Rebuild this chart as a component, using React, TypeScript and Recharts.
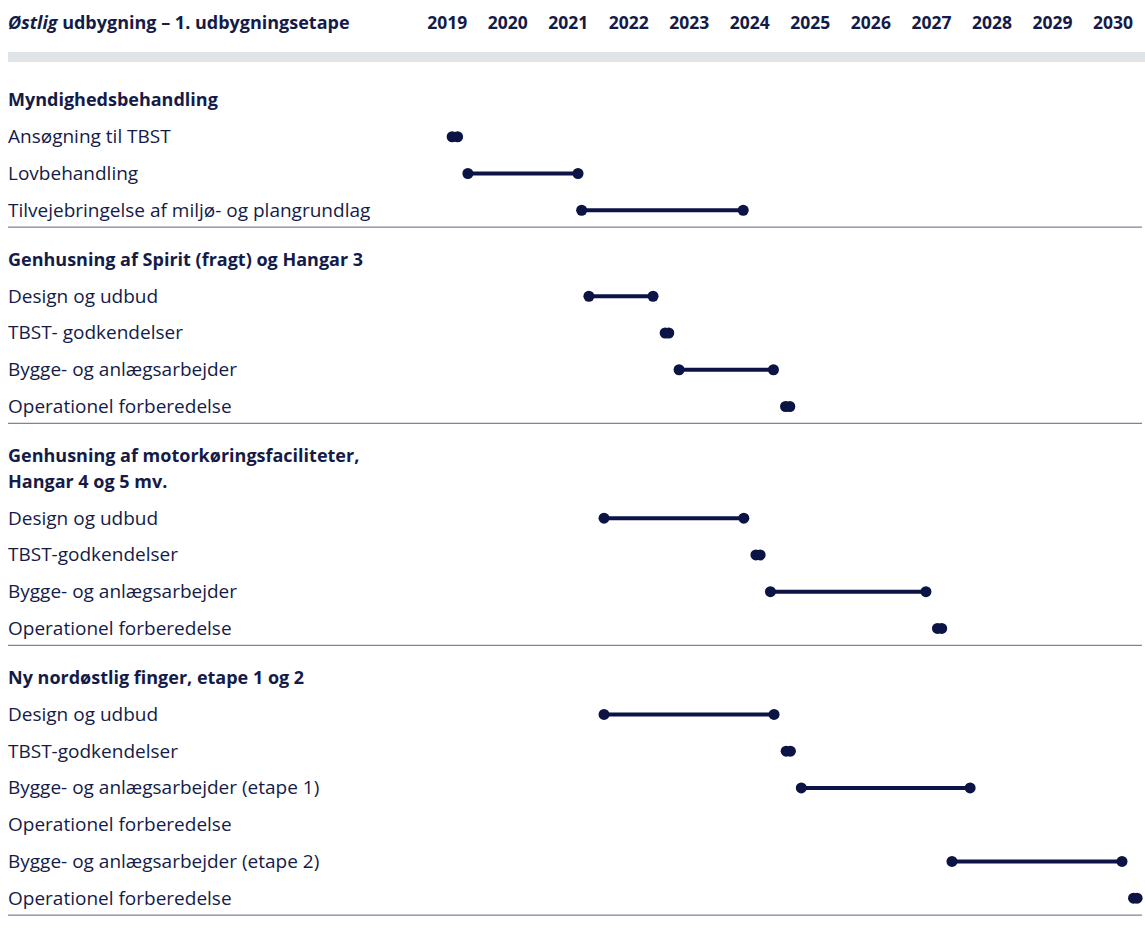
import { ScatterChart, Scatter, XAxis, YAxis, ReferenceLine } from "recharts";

// Tidsplan – østlig udbygning, 1. udbygningsetape
const years = [2019, 2020, 2021, 2022, 2023, 2024, 2025, 2026, 2027, 2028, 2029, 2030];

const groupTitles = [
  ["Myndighedsbehandling"],
  ["Genhusning af Spirit (fragt) og Hangar 3"],
  ["Genhusning af motorkøringsfaciliteter,", "Hangar 4 og 5 mv."],
  ["Ny nordøstlig finger, etape 1 og 2"],
];

const taskGroup = [0, 0, 0, 1, 1, 1, 1, 2, 2, 2, 2, 3, 3, 3, 3, 3, 3];

const taskNames = [
  "Ansøgning til TBST",
  "Lovbehandling",
  "Tilvejebringelse af miljø- og plangrundlag",
  "Design og udbud",
  "TBST- godkendelser",
  "Bygge- og anlægsarbejder",
  "Operationel forberedelse",
  "Design og udbud",
  "TBST-godkendelser",
  "Bygge- og anlægsarbejder",
  "Operationel forberedelse",
  "Design og udbud",
  "TBST-godkendelser",
  "Bygge- og anlægsarbejder (etape 1)",
  "Operationel forberedelse",
  "Bygge- og anlægsarbejder (etape 2)",
  "Operationel forberedelse",
];

// start / slut i årstal (decimal)
const taskStart = [2019.58, 2019.84, 2021.72, 2021.84, 2023.1, 2023.33, 2025.09, 2022.09, 2024.6, 2024.84, 2027.6, 2022.09, 2025.1, 2025.35, null, 2027.84, 2030.84];
const taskEnd = [2019.67, 2021.66, 2024.39, 2022.9, 2023.16, 2024.89, 2025.16, 2024.4, 2024.67, 2027.41, 2027.67, 2024.9, 2025.17, 2028.14, null, 2030.65, 2030.9];

const NAVY = "#0b1444";
const TEXT = "#141b48";
const RULE = "#7d829e";
const BAND = "#e1e4e7";
const FONT = "'Open Sans', 'Noto Sans', sans-serif";

const W = 1145;
const H = 933;
const PAD = 8;
const AXIS_H = 49;
const ROW_PX = 36.75;
const X_MIN = 2012.24;
const X_MAX = 2031.03;

// rækkefølge -> position (i rækkeenheder fra toppen)
type Row = { y: number; text: string; bold: boolean };
const rows: Row[] = [];
const seps: number[] = [];
const tasks: { y: number; start: number; end: number }[] = [];
let pos = 1.17;
groupTitles.forEach((lines, g) => {
  if (g > 0) pos = seps[seps.length - 1] + 0.88;
  lines.forEach((t, i) => {
    if (i > 0) pos += 0.7;
    rows.push({ y: pos, text: t, bold: true });
  });
  taskNames.forEach((name, i) => {
    if (taskGroup[i] !== g) return;
    pos += 1;
    rows.push({ y: pos, text: name, bold: false });
    const s = taskStart[i];
    const e = taskEnd[i];
    if (s != null && e != null) tasks.push({ y: pos, start: s, end: e });
  });
  seps.push(pos + 0.46);
});

const RowTick = (props: any) => {
  const row = rows[props.index];
  if (!row) return null;
  return (
    <text
      x={props.x}
      y={props.y + 6.5}
      fill={TEXT}
      fontFamily={FONT}
      fontSize={row.bold ? 18 : 19}
      fontWeight={row.bold ? 700 : 400}
      textAnchor="start"
    >
      {row.text}
    </text>
  );
};

const YearTick = (props: any) => (
  <text x={props.x} y={props.y} fill={TEXT} fontFamily={FONT} fontSize={17.5} fontWeight={700} textAnchor="middle">
    {Math.floor(props.payload.value)}
  </text>
);

const Title = (props: any) => {
  const vb = props.viewBox || { x: 0, y: 0 };
  return (
    <text x={vb.x} y={vb.y + 21} fill={TEXT} fontFamily={FONT} fontSize={18} fontWeight={700}>
      <tspan fontStyle="italic">Østlig</tspan>
      <tspan> udbygning – 1. udbygningsetape</tspan>
    </text>
  );
};

const Dot = (props: any) => <circle cx={props.cx} cy={props.cy} r={5.5} fill={NAVY} />;

export default function App() {
  return (
    <div>
      <style>{"body{margin:0}"}</style>
      <ScatterChart width={W} height={H} margin={{ top: PAD, right: 0, bottom: 0, left: PAD }}>
        <XAxis
          type="number"
          dataKey="x"
          orientation="top"
          domain={[X_MIN, X_MAX]}
          allowDataOverflow
          ticks={years.map((y) => y + 0.5)}
          interval={0}
          height={AXIS_H}
          axisLine={{ stroke: BAND, strokeWidth: 10 }}
          tickLine={false}
          tickSize={0}
          tickMargin={28}
          tick={<YearTick />}
          label={{ content: Title }}
        />
        <YAxis
          type="number"
          dataKey="y"
          reversed
          mirror
          orientation="left"
          domain={[0, (H - PAD - AXIS_H) / ROW_PX]}
          allowDataOverflow
          ticks={rows.map((r) => r.y)}
          interval={0}
          axisLine={false}
          tickLine={false}
          tickSize={0}
          tickMargin={0}
          tick={<RowTick />}
        />
        {seps.map((s, i) => (
          <ReferenceLine
            key={"sep" + i}
            segment={[{ x: X_MIN, y: s }, { x: X_MAX - 0.05, y: s }]}
            stroke={RULE}
            strokeWidth={1.3}
          />
        ))}
        {tasks.map((t, i) => (
          <Scatter
            key={"task" + i}
            data={[{ x: t.start, y: t.y }, { x: t.end, y: t.y }]}
            fill={NAVY}
            line={{ stroke: NAVY, strokeWidth: 4 }}
            shape={Dot}
            isAnimationActive={false}
          />
        ))}
      </ScatterChart>
    </div>
  );
}
